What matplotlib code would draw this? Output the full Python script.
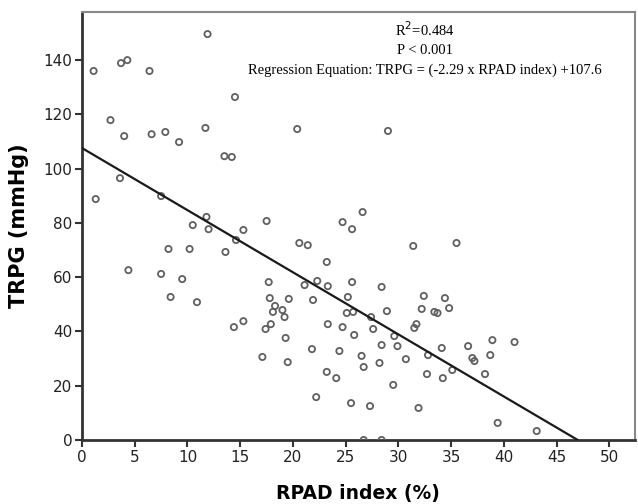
import numpy as np
import matplotlib
matplotlib.use("Agg")
import matplotlib.pyplot as plt

# RPAD index (%) vs TRPG (mmHg)
rpad = [11.9, 1.1, 3.7, 4.3, 6.4, 14.5, 2.7, 4.0, 6.6, 7.9,
        9.2, 11.7, 13.5, 14.2, 20.4, 29.0, 3.6, 1.3, 7.5, 10.5,
        11.8, 12.0, 15.3, 17.5, 13.6, 8.2, 10.2, 4.4, 7.5, 9.5,
        8.4, 10.9, 14.6, 24.7, 25.6, 26.6, 20.6, 21.4, 23.2, 17.7,
        21.1, 22.3, 23.3, 25.6, 17.8, 19.6, 21.9, 18.3, 19.0, 18.1,
        19.2, 15.3, 14.4, 17.9, 17.4, 25.2, 25.1, 25.7, 23.3, 24.7,
        25.8, 19.3, 21.8, 24.4, 26.5, 17.1, 19.5, 23.2, 24.1, 22.2,
        25.5, 31.4, 35.5, 28.4, 32.4, 34.4, 28.9, 32.2, 33.4, 33.7,
        34.8, 27.4, 31.7, 31.5, 27.6, 29.6, 29.9, 28.4, 34.1, 36.6,
        38.9, 26.7, 30.7, 32.8, 37.0, 37.2, 38.7, 28.2, 35.1, 32.7,
        34.2, 38.2, 29.5, 27.3, 31.9, 39.4, 26.7, 28.4, 41.0, 43.1]
trpg = [149.6, 136.0, 138.9, 140.0, 136.0, 126.4, 117.9, 112.0, 112.7, 113.5,
        109.8, 115.0, 104.6, 104.3, 114.6, 113.9, 96.5, 88.8, 89.9, 79.2,
        82.2, 77.7, 77.4, 80.7, 69.3, 70.4, 70.4, 62.6, 61.2, 59.3,
        52.7, 50.8, 73.7, 80.3, 77.7, 84.0, 72.6, 71.8, 65.6, 58.2,
        57.1, 58.6, 56.7, 58.2, 52.3, 52.0, 51.6, 49.4, 47.9, 47.2,
        45.3, 43.8, 41.6, 42.7, 40.9, 52.7, 46.8, 47.2, 42.7, 41.6,
        38.7, 37.6, 33.5, 32.8, 31.0, 30.6, 28.7, 25.1, 22.8, 15.8,
        13.6, 71.5, 72.6, 56.4, 53.1, 52.3, 47.5, 48.3, 47.2, 46.8,
        48.6, 45.3, 42.7, 41.3, 40.9, 38.3, 34.6, 35.0, 33.9, 34.6,
        36.8, 26.9, 29.8, 31.3, 30.2, 29.1, 31.3, 28.4, 25.8, 24.3,
        22.8, 24.3, 20.3, 12.5, 11.8, 6.3, 0.0, 0.0, 36.1, 3.3]

slope = -2.29
intercept = 107.6
x_ticks = [0, 5, 10, 15, 20, 25, 30, 35, 40, 45, 50]
y_ticks = [0, 20, 40, 60, 80, 100, 120, 140]

fig = plt.figure(figsize=(6.38, 5.04), dpi=100)
ax = fig.add_axes([0.1285, 0.127, 0.8665, 0.849])

ax.scatter(rpad, trpg, s=20, facecolors="none", edgecolors="#606060",
           linewidths=1.3, zorder=3)

# fitted line, drawn until it meets the x axis
x_end = -intercept / slope
xs = np.array([0, x_end])
ax.plot(xs, slope * xs + intercept, color="#1a1a1a", linewidth=1.6, zorder=4)

ax.set_xlim(0, 52.4)
ax.set_ylim(0, 157.7)
ax.set_xticks(x_ticks)
ax.set_yticks(y_ticks)
ax.tick_params(direction="out", length=5, width=1.5, color="#333333",
               labelsize=11, labelcolor="#222222", pad=2)

for side in ("left", "bottom"):
    ax.spines[side].set_linewidth(2)
    ax.spines[side].set_color("#333333")
for side in ("top", "right"):
    ax.spines[side].set_linewidth(1.5)
    ax.spines[side].set_color("#888888")

ax.set_xlabel("RPAD index (%)", fontsize=13.5, fontweight="bold", labelpad=14)
ax.set_ylabel("TRPG (mmHg)", fontsize=15, fontweight="bold", labelpad=10)

txt = dict(fontsize=10.5, family="Liberation Serif", ha="center", va="center",
           transform=ax.transAxes)
ax.text(0.62, 0.958, r"R$^2$=0.484", **txt)
ax.text(0.62, 0.911, "P < 0.001", **txt)
ax.text(0.62, 0.864, "Regression Equation: TRPG = (-2.29 x RPAD index) +107.6", **txt)

fig.savefig("out.png", dpi=100)
